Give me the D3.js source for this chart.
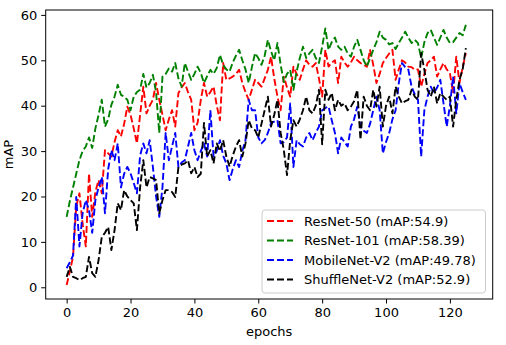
<!DOCTYPE html>
<html>
<head>
<meta charset="utf-8">
<script src="https://cdn.jsdelivr.net/npm/d3@7"></script>
<style>
  html, body { margin: 0; padding: 0; background: #fff; }
  svg { display: block; }
  text { font-family: "DejaVu Sans", sans-serif; }
</style>
</head>
<body>
<div id="chart"></div>
<script>
const epochs = d3.range(0, 126);

const resnet50 = [0.5,3.5,6.7,17.8,20.7,14,9,25,15.5,21,23.6,20.7,30.2,29.5,28.8,32,34.6,33.2,36,39.8,
38,35,31.7,38,44.2,38.3,40,41.3,45,41.3,38,34.6,37,39,35.4,42.8,44,45,43,41.3,
34.6,36.2,41.3,45,42,43,44.2,40,36.8,49.4,45.7,46,46.4,47,47.9,45,43,41.3,43.5,45.7,
45,44.2,46,47.9,50.8,46,42,39,46.4,44,42,48.6,47,45.7,48,50,49,48.6,49.4,46,
42,52.3,48.6,49.5,50,45,50.8,49.5,48.6,49.5,50.8,50,49.4,49,48.6,52.3,49,45,47,49.4,
50.5,51.5,52.3,45.7,48,50,49.5,48.6,48.5,47.9,48,44.2,47,49.4,50,50.8,46.4,48,49.4,48,
47.2,42.8,50.8,45,48.5,51.6];

const resnet101 = [15.5,19,22,25,28,30,31,33,30.7,35,38,41.3,35.4,37,40.2,42,44.6,42.4,42,41.3,
39,42,43,43.5,47,44,45,46.8,43,34,46.4,47,48.2,47.5,49.4,46,44.2,49.4,47.5,45.7,
47,48.6,47.2,45,46.5,47.9,47,48.3,51.2,49,48,47.5,49.5,51,52.3,50,48,45,48.5,51.6,
50.5,49,51,54.5,52,50,53.8,49,45.2,47,47.9,43.5,47.5,50.5,53,50.5,51.5,52.3,50.5,49.4,
53,57,52.3,54,55,53,52.3,53,51.5,50.8,53,54.5,52.3,50,48.6,50.5,52.3,54,56.3,55,
54.5,53.5,53.8,52.5,53.8,55,56.3,55,53.8,54.5,53.8,50.5,54,56,56.7,55,53.4,55,56.7,55,
53.8,54,55,56,55.5,57.8];

const mobilenetV2 = [4.2,5.5,7,19.9,9,16.3,19.2,17,12,19.2,22,24.3,16.3,26,30.2,28,31.7,22,25,26.5,
25.1,23,20.7,29,31.7,29.5,32.4,26.5,20,15.5,22,34,28,31,34,26.5,27.5,28,31,34,
30.2,28,30,31.7,28.8,39,28.8,30,32.4,29,27.3,23.6,26,28,26.5,30,32.4,41.3,39,39,
33,31.7,32.4,34,36.2,36.5,36.8,31.7,32,33,40.5,26.5,32.4,31.5,31,33,34,32.4,34,35.4,
39,39.5,39.8,36.8,34,29.5,33,32,31,35.4,37,39.8,35.4,34.5,34,36,39,42,39,29.5,
32,34,37,39,45,49.4,48.5,47.9,44.2,42.5,41.3,28.8,39,42,44.2,42.8,44,45.7,40.5,35.4,
40,46.4,38.3,45,43,41.3];

const shufflenetV2 = [2.3,4.5,2.3,2,1.6,2,2.3,6.7,3.1,2.3,6,11.1,12,13.3,8.2,12.6,18.5,17,21.4,20,
19.2,18.5,12.6,22,28,22,24.3,24,23.6,16.3,19.2,21.4,21.4,21,19.9,26.5,27,27.3,28,25.1,
26.5,24.3,25,36.2,28.8,30.2,27.3,31.7,30,32.4,28.8,26.6,29,31,32.4,28.8,31.7,36.8,35,34.6,
33,36,39,42,35.4,38,41.3,34,30.2,24.7,32.4,36.8,35.4,37,39,42,39,38.3,40,43.5,
31.5,43.5,41.3,42.8,39,41.3,40,40.5,39,39.8,41,43.5,32.5,42,40,39,43.5,39.8,44.2,35.4,
40,42,38.3,44.2,42,40.5,41,41.3,43.5,42,41.3,51.6,47.9,43.5,42,44.2,40.5,42.8,42,41.3,
42,35.4,41.3,45.7,48,52.7];

const seriesNames = ["ResNet-50 (mAP:54.9)", "ResNet-101 (mAP:58.39)", "MobileNet-V2 (mAP:49.78)", "ShuffleNet-V2 (mAP:52.9)"];
const seriesColors = ["#ff0000", "#008000", "#0000ff", "#000000"];
const xTicks = [0, 20, 40, 60, 80, 100, 120];
const yTicks = [0, 10, 20, 30, 40, 50, 60];

const series = [resnet50, resnet101, mobilenetV2, shufflenetV2];

const W = 506, H = 345;
const pL = 45.7, pR = 492.7, pT = 10, pB = 299;

const svg = d3.select("#chart").append("svg").attr("width", W).attr("height", H);

const x = d3.scaleLinear().domain([-6.56, 133.4]).range([pL, pR]);
const y = d3.scaleLinear().domain([-2.58, 61.08]).range([pB, pT]);

svg.append("defs").append("clipPath").attr("id", "clip")
  .append("rect").attr("x", pL).attr("y", pT).attr("width", pR - pL).attr("height", pB - pT);

const line = d3.line().x((d, i) => x(epochs[i])).y(d => y(d));

const g = svg.append("g").attr("clip-path", "url(#clip)");
series.forEach((s, k) => {
  g.append("path").datum(s)
    .attr("d", line)
    .attr("fill", "none")
    .attr("stroke", seriesColors[k])
    .attr("stroke-width", 1.9)
    .attr("stroke-dasharray", "7,3")
    .attr("stroke-linejoin", "round");
});

const xAxis = d3.axisBottom(x).tickValues(xTicks).tickSize(4.5).tickPadding(4).tickFormat(d3.format("d"));
const yAxis = d3.axisLeft(y).tickValues(yTicks).tickSize(4.5).tickPadding(4).tickFormat(d3.format("d"));

const gx = svg.append("g").attr("transform", `translate(0,${pB})`).call(xAxis);
const gy = svg.append("g").attr("transform", `translate(${pL},0)`).call(yAxis);
[gx, gy].forEach(a => {
  a.select(".domain").remove();
  a.selectAll(".tick line").attr("stroke", "#000").attr("stroke-width", 1);
  a.selectAll(".tick text").attr("fill", "#000").style("font-size", "13px").style("font-family", "DejaVu Sans");
});

svg.append("rect").attr("x", pL).attr("y", pT).attr("width", pR - pL).attr("height", pB - pT)
  .attr("fill", "none").attr("stroke", "#000").attr("stroke-width", 1);

svg.append("text").attr("x", (pL + pR) / 2).attr("y", 336).attr("text-anchor", "middle")
  .style("font-size", "13px").text("epochs");
svg.append("text").attr("transform", `translate(13,${(pT + pB) / 2}) rotate(-90)`).attr("text-anchor", "middle")
  .style("font-size", "13px").text("mAP");

const lg = svg.append("g");
lg.append("rect").attr("x", 262).attr("y", 210).attr("width", 223.5).attr("height", 83)
  .attr("rx", 3).attr("fill", "#fff").attr("fill-opacity", 0.8).attr("stroke", "#cccccc").attr("stroke-width", 1);
seriesNames.forEach((name, k) => {
  const cy = 221 + k * 19.5;
  lg.append("line").attr("x1", 267).attr("x2", 293).attr("y1", cy).attr("y2", cy)
    .attr("stroke", seriesColors[k]).attr("stroke-width", 1.9).attr("stroke-dasharray", "7,3");
  lg.append("text").attr("x", 304).attr("y", cy).attr("dy", "0.36em")
    .style("font-size", "13px").text(name);
});
</script>
</body>
</html>
